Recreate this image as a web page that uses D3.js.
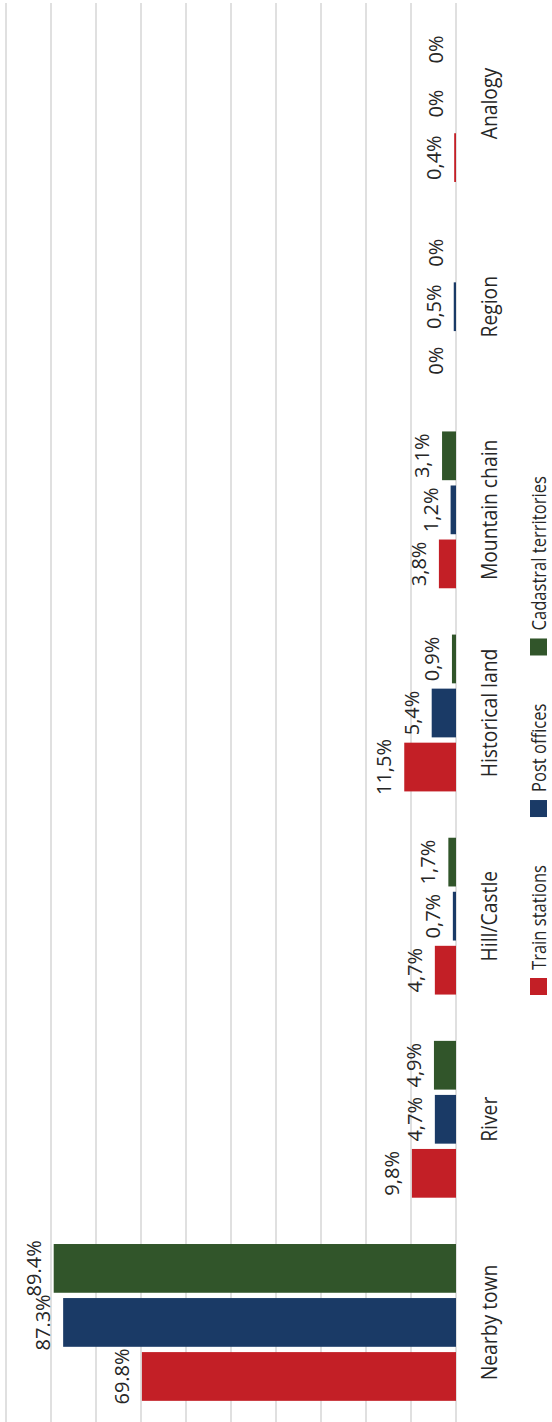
<!DOCTYPE html>
<html><head><meta charset="utf-8">
<script src="https://cdn.jsdelivr.net/npm/d3@7"></script>
<style>html,body{margin:0;padding:0;background:#fff;} svg{display:block;}</style>
</head><body>
<svg id="c" width="552" height="1422"></svg>
<script>
const categories = ["Nearby town","River","Hill/Castle","Historical land","Mountain chain","Region","Analogy"];
const seriesNames = ["Train stations","Post offices","Cadastral territories"];
const trainStations = [69.8, 9.8, 4.7, 11.5, 3.8, 0, 0.4];
const postOffices = [87.3, 4.7, 0.7, 5.4, 1.2, 0.5, 0];
const cadastral = [89.4, 4.9, 1.7, 0.9, 3.1, 0, 0];
const trainLabels = ["69.8%","9,8%","4,7%","11,5%","3,8%","0%","0,4%"];
const postLabels = ["87.3%","4,7%","0,7%","5,4%","1,2%","0,5%","0%"];
const cadastralLabels = ["89.4%","4,9%","1,7%","0,9%","3,1%","0%","0%"];
const colors = ["#c31f26","#1a3a66","#31552a"];
const tickValues = [0,10,20,30,40,50,60,70,80,90,100];

const series = [
  {name: seriesNames[0], values: trainStations, labels: trainLabels, color: colors[0]},
  {name: seriesNames[1], values: postOffices, labels: postLabels, color: colors[1]},
  {name: seriesNames[2], values: cadastral, labels: cadastralLabels, color: colors[2]}
];

const W = 1422; // length along categories (rotated chart)
const svg = d3.select("#c");
const g = svg.append("g").attr("transform", `translate(0,${W}) rotate(-90)`);

const x0 = d3.scaleBand().domain(categories).range([-2, 1420]).paddingInner(0.228).paddingOuter(0.114);
const x1 = d3.scaleBand().domain(d3.range(series.length)).range([0, x0.bandwidth()]).paddingInner(0.098);
const y = d3.scaleLinear().domain([0, 100]).range([456, 6]);

const FONT = "'Open Sans', 'Noto Sans', sans-serif";

// gridlines
g.append("g").selectAll("line").data(tickValues).join("line")
  .attr("x1", 0).attr("x2", 1419)
  .attr("y1", d => y(d)).attr("y2", d => y(d))
  .attr("stroke", "#d9d9d9").attr("stroke-width", 1.6);

// bars
const groups = g.append("g").selectAll("g").data(categories).join("g")
  .attr("transform", d => `translate(${x0(d)},0)`);

groups.each(function(cat, ci) {
  const sel = d3.select(this);
  series.forEach((s, si) => {
    const v = s.values[ci];
    if (v > 0) {
      sel.append("rect")
        .attr("x", x1(si)).attr("width", x1.bandwidth())
        .attr("y", y(v)).attr("height", y(0) - y(v))
        .attr("fill", s.color);
    }
    sel.append("text")
      .attr("x", x1(si) + x1.bandwidth() / 2)
      .attr("y", y(v) - 13)
      .attr("text-anchor", "middle")
      .attr("font-family", FONT).attr("font-size", 20)
      .attr("fill", "#262626")
      .text(s.labels[ci]);
  });
});

// category labels
g.append("g").selectAll("text").data(categories).join("text")
  .attr("transform", d => `translate(${x0(d) + x0.bandwidth() / 2},497) scale(0.92,1)`)
  .attr("text-anchor", "middle")
  .attr("font-family", FONT).attr("font-size", 21)
  .attr("fill", "#262626")
  .text(d => d);

// legend
const leg = g.append("g");
let cursor = 427;
series.forEach(s => {
  leg.append("rect").attr("x", cursor).attr("y", 530).attr("width", 17).attr("height", 17).attr("fill", s.color);
  const t = leg.append("text")
    .attr("transform", `translate(${cursor + 25},545.5) scale(0.83,1)`)
    .attr("font-family", FONT).attr("font-size", 20)
    .attr("fill", "#262626")
    .text(s.name);
  const w = t.node().getComputedTextLength() * 0.83;
  cursor += 25 + w + 48;
});
</script>
</body></html>
